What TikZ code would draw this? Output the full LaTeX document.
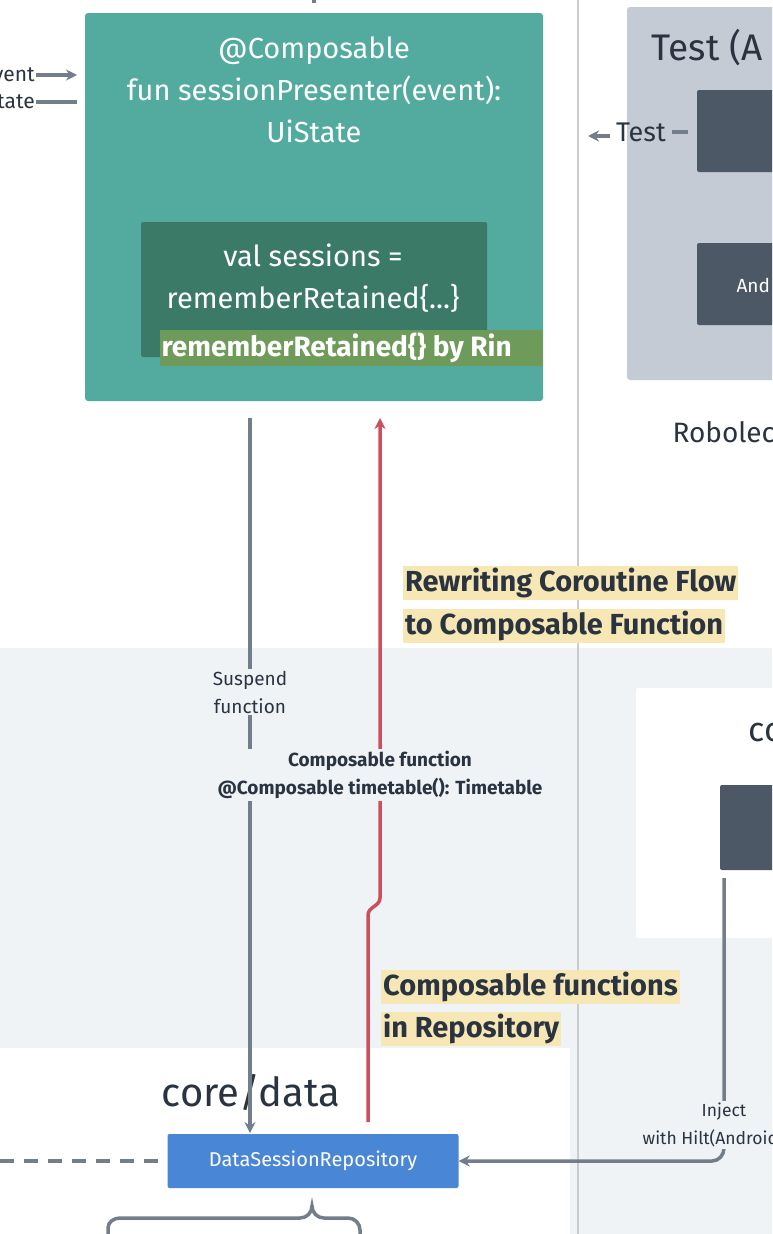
\documentclass[tikz,border=0pt]{standalone}
\usepackage{fontspec}
\setmainfont{Fira Sans}
\usetikzlibrary{arrows.meta}
\definecolor{teal1}{HTML}{52AB9E}
\definecolor{tealdk}{HTML}{3C7A68}
\definecolor{lbg}{HTML}{EFF3F6}
\definecolor{gbox}{HTML}{C5CBD5}
\definecolor{dbox}{HTML}{4D5866}
\definecolor{conn}{HTML}{747D8C}
\definecolor{redc}{HTML}{CC4F5E}
\definecolor{blue1}{HTML}{4A86D6}
\definecolor{yel}{HTML}{F7E7B5}
\definecolor{txt}{HTML}{2A3340}
\definecolor{olive}{HTML}{6E9A5A}
\begin{document}
\begin{tikzpicture}[x=1pt,y=-1pt,
  conn/.style={draw=conn,line width=3.5pt,-{Stealth[length=11pt,width=11pt]}},
  wt/.style={text=white,align=center},
  yl/.style={fill=yel,text=txt,font=\bfseries\fontsize{29}{30}\selectfont,inner sep=2pt,anchor=west},
  sm/.style={text=txt,align=center}]
\useasboundingbox (0,0) rectangle (772,1234);
\clip (0,0) rectangle (772,1234);
\fill[white] (0,0) rectangle (772,1234);
\fill[lbg] (0,648) rectangle (772,1234);
\fill[white] (0,1048) rectangle (570,1234);
\fill[white,rounded corners=2pt] (636,688) rectangle (780,938);
\draw[gray!40,line width=1.5pt] (578,0) -- (578,1234);
% right test box
\fill[gbox,rounded corners=3pt] (627,7) rectangle (780,380);
\node[anchor=west,text=txt,font=\fontsize{37}{40}\selectfont] (tt) at (648,48) {Test (A};
\fill[dbox,rounded corners=2pt] (697,90) rectangle (780,172);
\fill[dbox,rounded corners=2pt] (697,243) rectangle (780,325);
\node[anchor=west,text=white,font=\fontsize{19}{22}\selectfont] (and) at (733,285) {And};
\node[anchor=west,text=txt,font=\fontsize{28}{30}\selectfont] (rob) at (669,432) {Robolec};
\node[text=txt,font=\fontsize{27}{30}\selectfont] (test) at (641,132) {Test};
\coordinate (tl) at (610,136); \coordinate (tr) at (588,136);
\draw[conn] (tl) -- (tr);
\draw[draw=conn,line width=3.5pt] (672,132) -- (688,132);
% teal box
\fill[teal1,rounded corners=3pt] (85,13) rectangle (543,401);
\node[wt,font=\fontsize{29}{42}\selectfont] (t1) at (314,90) {@Composable\\fun sessionPresenter(event):\\UiState};
\fill[tealdk,rounded corners=2pt] (141,222) rectangle (487,357);
\node[wt,font=\fontsize{29}{42}\selectfont] (t2) at (313,278) {val sessions =\\rememberRetained\{...\}};
\fill[olive] (160,330) rectangle (543,366);
\begin{scope}
\clip (160,320) rectangle (543,370);
\node[anchor=west,text=white,font=\bfseries\fontsize{28}{30}\selectfont] (rr) at (158,348) {rememberRetained\{\} by Rin};
\end{scope}
% left labels
\node[anchor=east,sm,font=\fontsize{21}{24}\selectfont,inner sep=1pt] (ev) at (36,75) {vent};
\node[anchor=east,sm,font=\fontsize{21}{24}\selectfont,inner sep=1pt] (st) at (36,102) {tate};
\draw[conn] (ev.east) -- (77,75);
\draw[draw=conn,line width=3.5pt] (st.east) -- (77,102);
\draw[draw=conn,line width=3.5pt] (314,-3) -- (314,3);
% yellow labels
\node[yl] (y1) at (403,583) {Rewriting Coroutine Flow};
\node[yl] (y2) at (403,626) {to Composable Function};
\node[yl] (y3) at (381,987) {Composable functions};
\node[yl] (y4) at (381,1029) {in Repository};
% core data
\node[text=txt,font=\fontsize{40}{44}\selectfont] (cd) at (251,1092) {core/data};
\node[fill=blue1,text=white,rounded corners=2pt,minimum width=291pt,minimum height=54pt,font=\fontsize{20}{22}\selectfont] (repo) at (313,1161) {DataSessionRepository};
\draw[conn,dashed,dash pattern=on 14pt off 10pt,-] (0,1161) -- (repo.west);
\draw[draw=conn,line width=3.5pt] (108,1240) -- (108,1228) to[out=90,in=180] (120,1218) -- (300,1218) to[out=0,in=270] (312,1206) to[out=270,in=180] (324,1218) -- (348,1218) to[out=0,in=90] (360,1230) -- (360,1240);
% suspend
\coordinate (s0) at (250,418);
\draw[conn] (s0) -- (250,1133);
\node[sm,fill=lbg,font=\fontsize{19}{28}\selectfont,inner sep=2pt] (sus) at (250,692) {Suspend\\function};
% red
\coordinate (r0) at (368,1122);
\draw[draw=redc,line width=3.5pt,-{Stealth[length=11pt,width=11pt]}] (r0) -- (368,915) to[out=90,in=270] (380,898) -- (380,418);
\node[sm,fill=lbg,font=\bfseries\fontsize{19}{28}\selectfont,inner sep=2pt] (cf) at (380,775) {Composable function\\@Composable timetable(): Timetable};
% right co box
\node[anchor=west,text=txt,font=\fontsize{34}{36}\selectfont] (co) at (745,733) {co};
\fill[dbox,rounded corners=2pt] (720,785) rectangle (780,870);
\coordinate (i0) at (724,878);
\draw[conn] (i0) -- (724,1148) to[out=270,in=0] (712,1161) -- (repo.east);
\node[sm,fill=lbg,font=\fontsize{17.5}{28}\selectfont,inner sep=2pt] (inj) at (724,1125) {Inject\\with Hilt(Android) or};
\end{tikzpicture}
\end{document}
